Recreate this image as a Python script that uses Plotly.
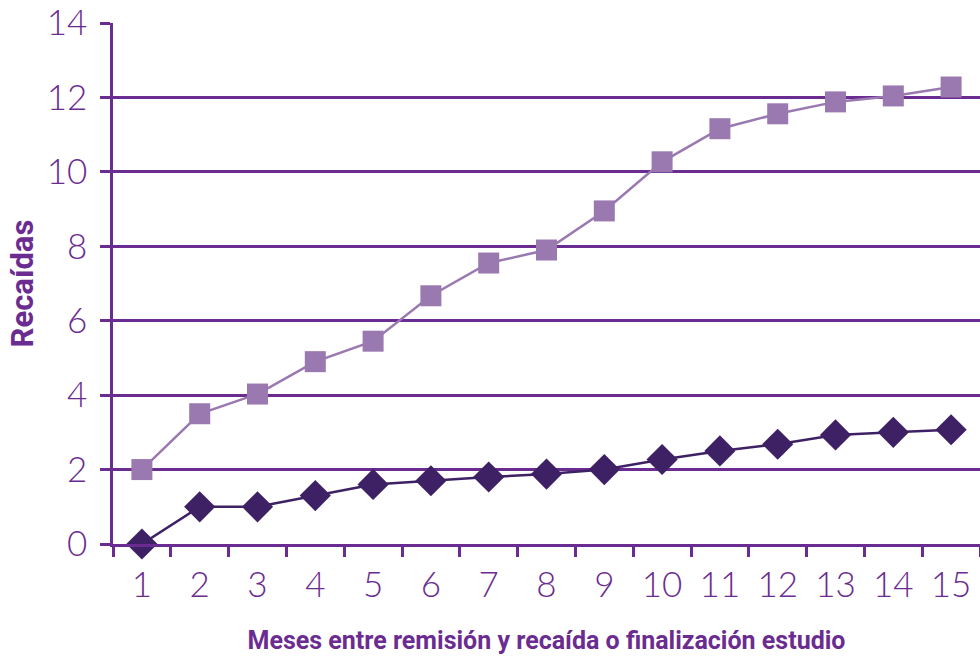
import plotly.graph_objects as go

months = [str(i) for i in range(1, 16)]
series_light = [2.0, 3.5, 4.03, 4.9, 5.45, 6.67, 7.55, 7.9, 8.95, 10.27, 11.16, 11.56, 11.88, 12.04, 12.28]
series_dark = [0.0, 1.0, 1.0, 1.3, 1.6, 1.7, 1.8, 1.88, 2.0, 2.27, 2.5, 2.68, 2.93, 3.0, 3.07]
y_ticks = [0, 2, 4, 6, 8, 10, 12, 14]

PURPLE = "#6b2c91"
LIGHT = "#9a78b0"
DARK = "#3e2165"

fig = go.Figure()
fig.add_trace(go.Scatter(x=months, y=series_light, mode="lines+markers",
                         line=dict(color=LIGHT, width=2.5),
                         marker=dict(symbol="square", size=21, color=LIGHT),
                         showlegend=False))
fig.add_trace(go.Scatter(x=months, y=series_dark, mode="lines+markers",
                         line=dict(color=DARK, width=2.5),
                         marker=dict(symbol="diamond", size=24, color=DARK),
                         showlegend=False, cliponaxis=False))

fig.update_layout(
    width=980, height=657,
    margin=dict(l=113, r=0, t=23, b=113),
    plot_bgcolor="white", paper_bgcolor="white",
    font=dict(family="Lato", color=PURPLE),
)
fig.update_xaxes(
    type="category", tickson="boundaries", ticks="outside", ticklen=10,
    tickwidth=2.5, tickcolor=PURPLE, showline=True, linecolor=PURPLE, linewidth=2.5,
    showgrid=False, zeroline=False, ticklabelstandoff=8,
    tickfont=dict(family="Lato", size=35, color=PURPLE, weight=300),
    title=dict(text="Meses entre remisión y recaída o finalización estudio",
               font=dict(family="Liberation Sans Narrow, Roboto", size=25, color=PURPLE, weight="bold"),
               standoff=29),
    range=[-0.5, 14.5],
)
fig.update_yaxes(
    range=[0, 14], tickvals=y_ticks, ticks="outside", ticklen=10, tickwidth=2.5,
    tickcolor=PURPLE, showline=True, linecolor=PURPLE, linewidth=2.5,
    showgrid=True, gridcolor=PURPLE, gridwidth=2.5, zeroline=False, ticklabelstandoff=6,
    tickfont=dict(family="Lato", size=35, color=PURPLE, weight=300),
    title=dict(text="Recaídas",
               font=dict(family="Liberation Sans Narrow, Roboto", size=31, color=PURPLE, weight="bold"),
               standoff=4),
)

fig.write_html("out.html")
